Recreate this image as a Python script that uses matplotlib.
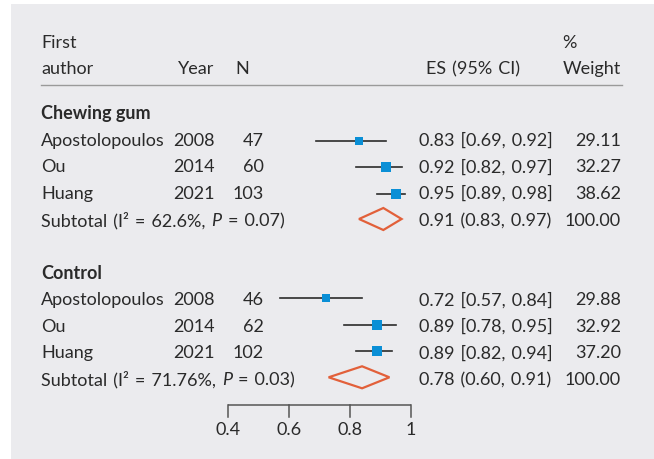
import matplotlib
matplotlib.use("Agg")
import matplotlib.pyplot as plt
from matplotlib.patches import Polygon, Rectangle

# ---------------- data ----------------
gum_authors = ["Apostolopoulos", "Ou", "Huang"]
gum_years = [2008, 2014, 2021]
gum_n = [47, 60, 103]
gum_es = [0.83, 0.92, 0.95]
gum_lo = [0.69, 0.82, 0.89]
gum_hi = [0.92, 0.97, 0.98]
gum_w = [29.11, 32.27, 38.62]
gum_sub = (0.91, 0.83, 0.97)          # ES, lo, hi
gum_sub_stats = ("62.6", "0.07")      # I2, P

ctl_authors = ["Apostolopoulos", "Ou", "Huang"]
ctl_years = [2008, 2014, 2021]
ctl_n = [46, 62, 102]
ctl_es = [0.72, 0.89, 0.89]
ctl_lo = [0.57, 0.78, 0.82]
ctl_hi = [0.84, 0.95, 0.94]
ctl_w = [29.88, 32.92, 37.20]
ctl_sub = (0.78, 0.60, 0.91)          # reported ES, lo, hi
ctl_sub_drawn = (0.84, 0.73, 0.93)    # diamond as drawn in the picture
ctl_sub_stats = ("71.76", "0.03")

axis_ticks = [0.4, 0.6, 0.8, 1.0]
axis_ticklabels = ["0.4", "0.6", "0.8", "1"]

# ---------------- style ----------------
W, H, DPI = 654, 460, 100
FONT = "Lato"
TXT = "#2a2a2a"
BG = "#ebebee"
BLUE = "#0a8fd6"
ORANGE = "#e2603a"
SP = "\u2004"   # slightly wider space, as in the reference typography
plt.rcParams["font.family"] = [FONT, "DejaVu Sans"]

fig = plt.figure(figsize=(W / DPI, H / DPI), dpi=DPI)
fig.patch.set_facecolor("white")
ax = fig.add_axes([0, 0, 1, 1])
ax.axis("off")

# x axis in effect-size units: 0.4 -> 228.3 px, 1.0 -> 410.7 px
PX_PER = (410.7 - 228.3) / 0.6
XMIN = 0.4 - 228.3 / PX_PER
XMAX = 0.4 + (W - 228.3) / PX_PER
ax.set_xlim(XMIN, XMAX)
ax.set_ylim(H, 0)


def X(px):
    return XMIN + px / PX_PER


# background panel
ax.add_patch(Rectangle((X(11), 5), X(W) - X(11), H - 5, facecolor=BG,
                       edgecolor="none", zorder=0))

renderer = fig.canvas.get_renderer()
probe = ax.text(0, 0, "Apostolopoulos", fontsize=12)
wpx = probe.get_window_extent(renderer).width
probe.remove()
FS = 12 * 124.0 / wpx


def txt(px, y, s, ha="left", **kw):
    return ax.text(X(px), y, s, ha=ha, va="baseline", fontsize=FS, color=TXT, **kw)


def width_px(t):
    return t.get_window_extent(renderer).width


# header
txt(41, 48, "First")
txt(41, 74, "author")
txt(214, 74, "Year", ha="right")
txt(235.5, 74, "N")
txt(426, 74, "ES" + SP + "(95%" + SP + "CI)")
txt(562, 48, "%")
txt(621, 74, "Weight", ha="right")
ax.plot([X(41), X(622)], [86, 86], color="#9a9a9a", lw=1.0)


def subtotal_label(px, y, i2, p):
    gap = 6.0
    t1 = txt(px, y, f"Subtotal{SP}(I\u00b2{SP}={SP}{i2}%,")
    x2 = px + width_px(t1) + gap
    t2 = txt(x2, y, "P", style="italic")
    x3 = x2 + width_px(t2) + gap
    txt(x3, y, f"={SP}{p})")


def group(label, y_label, text_rows, mark_rows, authors, years, ns, es, lo, hi, w,
          sub, sub_drawn, stats):
    txt(41, y_label, label, fontweight="bold")
    for i in range(len(authors)):
        yt, ym = text_rows[i], mark_rows[i]
        txt(41, yt, authors[i])
        txt(215, yt, str(years[i]), ha="right")
        txt(263.5, yt, str(ns[i]), ha="right")
        txt(419, yt, f"{es[i]:.2f}{SP}[{lo[i]:.2f},{SP}{hi[i]:.2f}]")
        txt(621, yt, f"{w[i]:.2f}", ha="right")
        ax.plot([lo[i], hi[i]], [ym, ym], color="#2b2b2b", lw=1.2, zorder=2)
        side = 9.2 * (w[i] / 33.0) ** 0.5
        ax.plot(es[i], ym, marker="s", ms=side * 72 / DPI, color=BLUE,
                mec=BLUE, mew=0, zorder=3)
    yt, ym = text_rows[-1], mark_rows[-1]
    subtotal_label(41, yt, stats[0], stats[1])
    txt(419, yt, f"{sub[0]:.2f}{SP}({sub[1]:.2f},{SP}{sub[2]:.2f})")
    txt(621, yt, f"{sum(w):.2f}", ha="right")
    c, l, h = sub_drawn
    hh = 11
    ax.add_patch(Polygon([(l, ym), (c, ym - hh), (h, ym), (c, ym + hh)],
                         closed=True, fill=False, edgecolor=ORANGE, lw=1.6,
                         joinstyle="miter", zorder=3))


group("Chewing gum", 119, [146, 172.5, 199, 226], [142, 168.3, 194.5, 220],
      gum_authors, gum_years, gum_n, gum_es, gum_lo, gum_hi, gum_w,
      gum_sub, gum_sub, gum_sub_stats)
group("Control", 279, [305.5, 332, 358.5, 385.5], [299.3, 325.7, 351.5, 378.3],
      ctl_authors, ctl_years, ctl_n, ctl_es, ctl_lo, ctl_hi, ctl_w,
      ctl_sub, ctl_sub_drawn, ctl_sub_stats)

# axis
AX_Y = 405.7
ax.plot([axis_ticks[0], axis_ticks[-1]], [AX_Y, AX_Y], color="#555555", lw=1.1,
        solid_capstyle="butt")
for t, lab in zip(axis_ticks, axis_ticklabels):
    ax.plot([t, t], [AX_Y, 418.3], color="#555555", lw=1.1)
    ax.text(t, 435, lab, ha="center", va="baseline", fontsize=FS, color=TXT)

fig.savefig("out.png", dpi=DPI, facecolor="white")
